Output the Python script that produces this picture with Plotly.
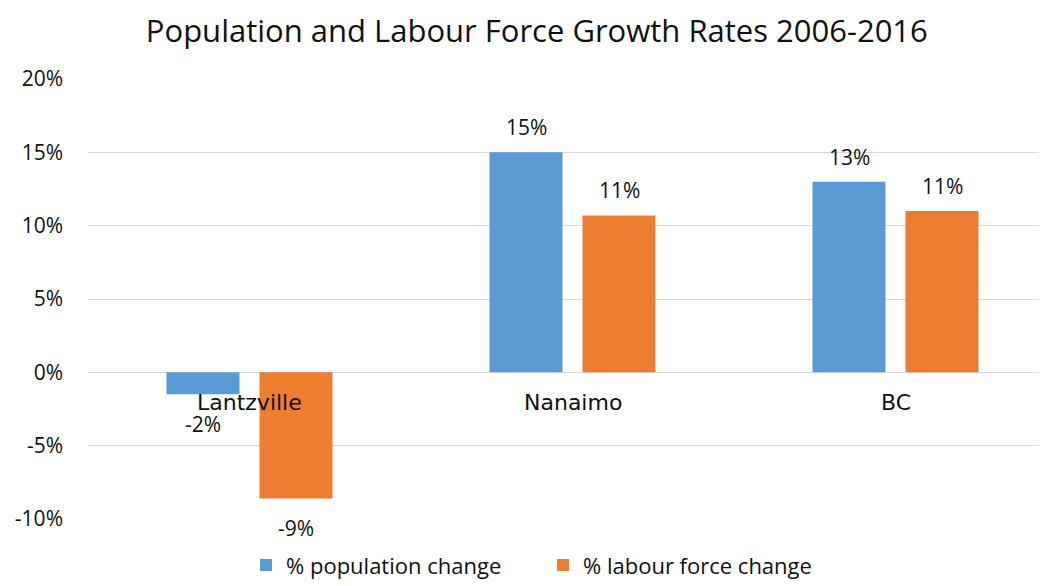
import plotly.graph_objects as go

categories = ["Lantzville", "Nanaimo", "BC"]
pop_change = [-0.015, 0.150, 0.130]
labour_change = [-0.086, 0.107, 0.110]
y_ticks = [-0.10, -0.05, 0.0, 0.05, 0.10, 0.15, 0.20]
y_tick_labels = ["-10%", "-5%", "0%", "5%", "10%", "15%", "20%"]

FONT = "Open Sans, Lato, sans-serif"
CAT_FONT = "DejaVu Sans, sans-serif"

# body margin of 8px in the exported page -> visible figure is 1039x578
W, H = 1039, 578
ML, MR, MT, MB = 80, 7, 71, 67
plot_w = W - ML - MR
cat_px = 323.0
x_hi = -0.5 + plot_w / cat_px
slot_px = 93.0

fig = go.Figure()
fig.add_trace(go.Bar(
    x=categories, y=pop_change, name="% population change",
    marker=dict(color="#5B9BD5", line=dict(width=0)),
))
fig.add_trace(go.Bar(
    x=categories, y=labour_change, name="% labour force change",
    marker=dict(color="#ED7D31", line=dict(width=0)),
))

# data labels
for series, shift in ((pop_change, -slot_px / 2), (labour_change, slot_px / 2)):
    for c, v in zip(categories, series):
        fig.add_annotation(x=c, y=v, text=f"{v*100:.0f}%", showarrow=False,
                           xshift=shift, yshift=25 if v >= 0 else -30,
                           yanchor="middle", xanchor="center",
                           font=dict(size=21, color="#111", family=FONT))

# category labels at the zero line
for c in categories:
    fig.add_annotation(x=c, y=0, text=c, showarrow=False, yanchor="top", yshift=-16,
                       font=dict(size=22, color="#111", family=CAT_FONT))

fig.update_layout(
    width=W, height=H,
    paper_bgcolor="white", plot_bgcolor="white",
    margin=dict(l=ML, r=MR, t=MT, b=MB, autoexpand=False),
    barmode="group", bargap=1 - 2 * slot_px / cat_px, bargroupgap=0.215,
    title=dict(text="Population and Labour Force Growth Rates 2006-2016",
               x=0.509, xanchor="center", y=0.96, yanchor="middle",
               font=dict(size=31, color="#111", family=FONT)),
    showlegend=True,
    legend=dict(orientation="h", x=0.166, xanchor="left", y=-0.105, yanchor="middle",
                font=dict(size=22, color="#111", family=FONT),
                entrywidth=252, entrywidthmode="pixels",
                traceorder="normal"),
    xaxis=dict(showticklabels=False, showgrid=False, zeroline=False, showline=False,
               range=[-0.5, x_hi]),
    yaxis=dict(range=[-0.10, 0.20], tickvals=y_ticks, ticktext=y_tick_labels,
               showgrid=True, gridcolor="#D9D9D9", gridwidth=1.3,
               zeroline=True, zerolinecolor="#D9D9D9", zerolinewidth=1.3,
               tickfont=dict(size=21, color="#111", family=FONT),
               ticks="", showline=False, ticklabelstandoff=24),
)

fig.write_html("out.html")
